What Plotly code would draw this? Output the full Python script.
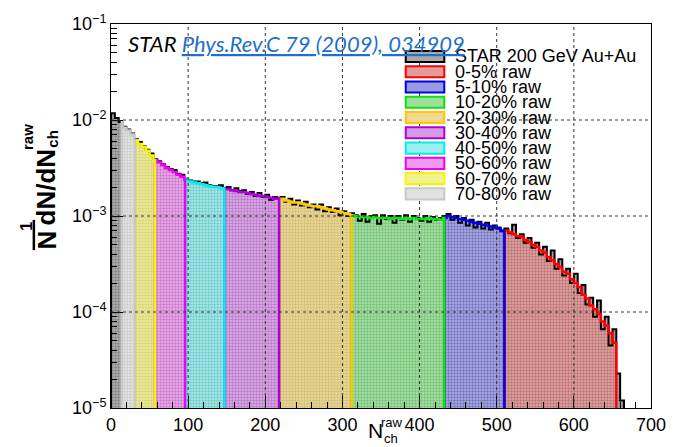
import plotly.graph_objects as go

# ---------------- data ----------------
bin_width = 5

# STAR 200 GeV Au+Au measured multiplicity distribution (bins of 5, starting at N=0)
star_start = 0
star_values = [
    1.175e-2, 1.047e-2, 9.55e-3, 8.51e-3, 7.94e-3, 7.24e-3, 6.31e-3, 5.89e-3, 5.37e-3, 4.90e-3,
    4.47e-3, 3.89e-3, 3.72e-3, 3.47e-3, 3.24e-3, 3.09e-3, 3.02e-3, 2.75e-3, 2.69e-3, 2.45e-3,
    2.34e-3, 2.29e-3, 2.29e-3, 2.19e-3, 2.24e-3, 2.09e-3, 2.04e-3, 2.04e-3, 2.09e-3, 1.95e-3,
    2.00e-3, 1.86e-3, 1.95e-3, 1.82e-3, 1.86e-3, 1.70e-3, 1.78e-3, 1.62e-3, 1.74e-3, 1.58e-3,
    1.66e-3, 1.48e-3, 1.58e-3, 1.55e-3, 1.58e-3, 1.41e-3, 1.51e-3, 1.32e-3, 1.45e-3, 1.29e-3,
    1.41e-3, 1.23e-3, 1.32e-3, 1.17e-3, 1.32e-3, 1.12e-3, 1.23e-3, 1.10e-3, 1.20e-3, 1.02e-3,
    1.12e-3, 1.00e-3, 1.07e-3, 1.02e-3, 8.91e-4, 1.05e-3, 8.71e-4, 1.00e-3, 1.02e-3, 8.32e-4,
    1.02e-3, 9.33e-4, 1.00e-3, 8.51e-4, 1.00e-3, 9.12e-4, 1.02e-3, 8.71e-4, 1.00e-3, 9.55e-4,
    8.91e-4, 1.00e-3, 8.71e-4, 9.77e-4, 9.12e-4, 9.55e-4, 1.00e-3, 1.05e-3, 9.12e-4, 1.00e-3,
    8.51e-4, 9.55e-4, 7.94e-4, 9.12e-4, 7.59e-4, 8.71e-4, 7.41e-4, 8.51e-4, 7.24e-4, 7.94e-4,
    7.59e-4, 6.92e-4, 7.41e-4, 6.61e-4, 8.13e-4, 5.89e-4, 6.46e-4, 5.25e-4, 5.89e-4, 4.68e-4,
    5.25e-4, 3.98e-4, 4.79e-4, 3.39e-4, 4.37e-4, 2.82e-4, 3.55e-4, 2.40e-4, 2.82e-4, 2.00e-4,
    2.51e-4, 1.58e-4, 1.91e-4, 1.20e-4, 1.41e-4, 8.91e-5, 1.32e-4, 6.61e-5, 8.91e-5, 4.47e-5,
    6.61e-5, 2.29e-5, 1.20e-5,
]

# raw centrality-class distribution (bins of 5, starting at N=10)
raw_start = 10
raw_values = [
    9.55e-3, 8.32e-3, 7.76e-3, 7.08e-3, 6.17e-3, 5.62e-3, 5.25e-3, 4.79e-3, 4.27e-3, 3.80e-3,
    3.63e-3, 3.39e-3, 3.16e-3, 3.02e-3, 2.88e-3, 2.69e-3, 2.57e-3, 2.40e-3, 2.29e-3, 2.24e-3,
    2.19e-3, 2.14e-3, 2.09e-3, 2.04e-3, 2.00e-3, 2.00e-3, 1.95e-3, 1.91e-3, 1.91e-3, 1.86e-3,
    1.82e-3, 1.78e-3, 1.78e-3, 1.74e-3, 1.70e-3, 1.66e-3, 1.62e-3, 1.62e-3, 1.58e-3, 1.55e-3,
    1.51e-3, 1.51e-3, 1.51e-3, 1.45e-3, 1.41e-3, 1.38e-3, 1.38e-3, 1.35e-3, 1.32e-3, 1.29e-3,
    1.26e-3, 1.26e-3, 1.23e-3, 1.20e-3, 1.17e-3, 1.15e-3, 1.12e-3, 1.10e-3, 1.07e-3, 1.05e-3,
    1.02e-3, 1.00e-3, 9.77e-4, 9.77e-4, 9.77e-4, 9.55e-4, 9.77e-4, 9.55e-4, 9.55e-4, 9.55e-4,
    9.33e-4, 9.55e-4, 9.55e-4, 9.33e-4, 9.55e-4, 9.33e-4, 9.55e-4, 9.33e-4, 9.33e-4, 9.33e-4,
    9.55e-4, 9.33e-4, 9.33e-4, 9.12e-4, 9.55e-4, 1.00e-3, 9.77e-4, 9.55e-4, 9.33e-4, 9.12e-4,
    8.91e-4, 8.71e-4, 8.51e-4, 8.32e-4, 8.13e-4, 7.94e-4, 7.76e-4, 7.59e-4, 7.41e-4, 7.08e-4,
    7.08e-4, 6.76e-4, 6.46e-4, 6.17e-4, 6.03e-4, 5.62e-4, 5.37e-4, 5.01e-4, 4.79e-4, 4.37e-4,
    4.17e-4, 3.72e-4, 3.47e-4, 3.16e-4, 2.95e-4, 2.63e-4, 2.51e-4, 2.19e-4, 2.00e-4, 1.82e-4,
    1.51e-4, 1.38e-4, 1.17e-4, 1.07e-4, 9.55e-5, 7.94e-5, 7.24e-5, 6.03e-5, 4.79e-5,
]

class_labels = ["0-5% raw", "5-10% raw", "10-20% raw", "20-30% raw", "30-40% raw",
                "40-50% raw", "50-60% raw", "60-70% raw", "70-80% raw"]
class_low = [510, 432, 312, 218, 147, 96, 57, 31, 14]
class_high = [655, 510, 432, 312, 218, 147, 96, 57, 31]
star_label = "STAR 200 GeV Au+Au"
star_high = 665

y_tick_vals = [1e-5, 1e-4, 1e-3, 1e-2, 1e-1]
y_tick_text = ["10<sup>\u22125</sup>", "10<sup>\u22124</sup>", "10<sup>\u22123</sup>",
               "10<sup>\u22122</sup>", "10<sup>\u22121</sup>"]

# ---------------- styles ----------------
class_line = ["#ff0000", "#0000ee", "#11e011", "#ffc800", "#b000dd",
              "#00f0f0", "#f000f0", "#f5f500", "#c8c8c8"]
class_fg = ["#a83a3a", "#3a3aa8", "#3aa83a", "#c0a030", "#9a3cb4",
            "#30b0b0", "#b43cb4", "#c0c030", "#b4b4b4"]
class_bg = ["#dcaaaa", "#b0b0e0", "#b0e0b0", "#eadca8", "#dab4e4",
            "#b0eaea", "#eab4ea", "#eeeeac", "#e6e6e6"]
class_box = ["#e29a9a", "#9a9ae0", "#9ae09a", "#f0d890", "#d49ae4",
             "#9aeeee", "#ee9aee", "#f2f290", "#e2e2e2"]
star_fg, star_bg, star_box = "#555555", "#b4b4b4", "#a8a8a8"

BASE = 1e-6  # below the visible range, closes the filled area
FONT = "Arial, Liberation Sans, Helvetica, sans-serif"


def step_path(start, vals, lo, hi):
    xs, ys = [lo], [BASE]
    for i, v in enumerate(vals):
        a = start + i * bin_width
        b = a + bin_width
        if b <= lo or a >= hi:
            continue
        xs.append(max(a, lo))
        ys.append(v)
    xs += [hi, hi]
    ys += [ys[-1], BASE]
    return xs, ys


fig = go.Figure()

# filled areas
sx, sy = step_path(star_start, star_values, 0, star_high)
fig.add_trace(go.Scatter(x=sx, y=sy, mode="lines", line=dict(width=0, shape="hv"),
                         fill="toself",
                         fillpattern=dict(shape=".", fgcolor=star_fg, bgcolor=star_bg,
                                          size=3, solidity=0.5),
                         hoverinfo="skip", showlegend=False))
for i in range(len(class_labels)):
    cx, cy = step_path(raw_start, raw_values, class_low[i], class_high[i])
    fig.add_trace(go.Scatter(x=cx, y=cy, mode="lines", line=dict(width=0, shape="hv"),
                             fill="toself",
                             fillpattern=dict(shape=".", fgcolor=class_fg[i], bgcolor=class_bg[i],
                                              size=3, solidity=0.5),
                             hoverinfo="skip", showlegend=False))

# outlines
fig.add_trace(go.Scatter(x=sx, y=sy, mode="lines", line=dict(color="black", width=2, shape="hv"),
                         name=star_label, showlegend=False))
for i in range(len(class_labels)):
    cx, cy = step_path(raw_start, raw_values, class_low[i], class_high[i])
    fig.add_trace(go.Scatter(x=cx, y=cy, mode="lines",
                             line=dict(color=class_line[i], width=2.5, shape="hv"),
                             name=class_labels[i], showlegend=False))

shapes = []
# dotted grid above the fills
for gx in range(100, 700, 100):
    shapes.append(dict(type="line", xref="x", yref="paper", x0=gx, x1=gx, y0=0, y1=1,
                       line=dict(color="#333333", width=1, dash="dot"), layer="above"))
for gy in [1e-4, 1e-3, 1e-2]:
    shapes.append(dict(type="line", xref="paper", yref="y", x0=0, x1=1, y0=gy, y1=gy,
                       line=dict(color="#333333", width=1, dash="dot"), layer="above"))

annotations = []
# legend (drawn manually, ROOT style, tight spacing)
leg_names = [star_label] + class_labels
leg_line = ["black"] + class_line
leg_fill = [star_box] + class_box
W, H = 546.0, 394.0
for k, name in enumerate(leg_names):
    cyp = 48.3 + 15.67 * k
    shapes.append(dict(type="rect", xref="paper", yref="paper",
                       x0=(409 - 111) / W, x1=(448 - 111) / W,
                       y0=(409 - cyp - 5.7) / H, y1=(409 - cyp + 5.7) / H,
                       fillcolor=leg_fill[k], line=dict(color=leg_line[k], width=2),
                       layer="above"))
    annotations.append(dict(text=name, xref="paper", yref="paper",
                            x=(457 - 111) / W, y=(409 - cyp) / H,
                            xanchor="left", yanchor="middle", showarrow=False,
                            font=dict(family=FONT, size=18, color="black")))

# header text
annotations.append(dict(
    text="<i>STAR <span style='color:#1f6fcf'><u>Phys.Rev.C 79 (2009), 034909</u></span></i>",
    xref="paper", yref="paper", x=(126 - 111) / W, y=(409 - 35) / H,
    xanchor="left", yanchor="middle", showarrow=False,
    font=dict(family="Lato, Open Sans, sans-serif", size=22, color="black")))

# y-axis title: 1/N dN/dN_ch^raw
def yt(text, px, py, size):
    annotations.append(dict(text=text, xref="paper", yref="paper",
                            x=(px - 111) / W, y=(409 - py) / H, textangle=-90,
                            xanchor="center", yanchor="middle", showarrow=False,
                            font=dict(family=FONT, size=size, color="black")))

yt("<b>dN/dN</b>", 45, 182, 26)
yt("<b>ch</b>", 51, 133, 15)
yt("<b>raw</b>", 26, 131, 15)
yt("<b>1</b>", 25.5, 222.5, 16)
yt("<b>N</b>", 46, 236.5, 26)
shapes.append(dict(type="line", xref="paper", yref="paper",
                   x0=(33 - 111) / W, x1=(33 - 111) / W,
                   y0=(409 - 216) / H, y1=(409 - 247) / H,
                   line=dict(color="black", width=2.5)))

# x-axis title: N_ch^raw
def xt(text, px, py, size):
    annotations.append(dict(text=text, xref="paper", yref="paper",
                            x=(px - 111) / W, y=(409 - py) / H,
                            xanchor="center", yanchor="middle", showarrow=False,
                            font=dict(family=FONT, size=size, color="black")))

xt("N", 378, 432.5, 21)
xt("raw", 395, 424, 13)
xt("ch", 394, 440, 13)

minor_y = [m * 10.0 ** k for k in range(-5, -1) for m in range(2, 10)]

fig.update_layout(
    width=678, height=447,
    margin=dict(l=111, r=21, t=15, b=38),
    paper_bgcolor="white", plot_bgcolor="white",
    showlegend=False,
    font=dict(family=FONT, size=18, color="black"),
    shapes=shapes, annotations=annotations,
    xaxis=dict(range=[0, 700], dtick=100, tick0=0, ticks="inside", ticklen=12,
               tickcolor="black", tickwidth=1, showline=True, linecolor="black",
               linewidth=1, mirror=True, showgrid=False, zeroline=False,
               tickfont=dict(family=FONT, size=18, color="black"),
               minor=dict(dtick=20, tick0=0, ticks="inside", ticklen=6,
                          tickcolor="black", showgrid=False)),
    yaxis=dict(type="log", range=[-5, -1], tickmode="array",
               tickvals=y_tick_vals, ticktext=y_tick_text,
               ticks="inside", ticklen=12, tickcolor="black", tickwidth=1,
               showline=True, linecolor="black", linewidth=1, mirror=True,
               showgrid=False, zeroline=False,
               tickfont=dict(family=FONT, size=18, color="black"),
               minor=dict(tickmode="array", tickvals=minor_y, ticks="inside", ticklen=6,
                          tickcolor="black", showgrid=False)),
)

fig.write_html("out.html")
